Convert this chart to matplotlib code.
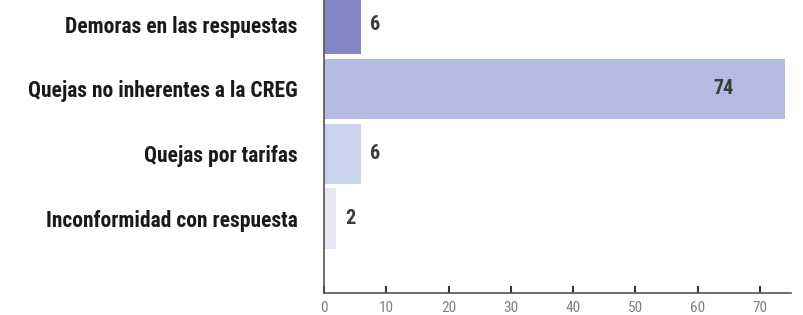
import matplotlib.pyplot as plt
import matplotlib.font_manager as fm

# datos
categorias = ["Demoras en las respuestas", "Quejas no inherentes a la CREG",
              "Quejas por tarifas", "Inconformidad con respuesta"]
valores = [6, 74, 6, 2]
colores = ["#8585c6", "#b3bbe2", "#c9d3ee", "#e6e6f5"]
ticks_x = [0, 10, 20, 30, 40, 50, 60, 70]

# fuente condensada (si existe)
names = {f.name for f in fm.fontManager.ttflist}
fam = [n for n in ["Roboto Condensed", "Archivo Narrow", "Asap Condensed",
                   "Liberation Sans Narrow"] if n in names] + ["DejaVu Sans"]

fig = plt.figure(figsize=(8.04, 3.15), dpi=100)
ax = fig.add_axes([324 / 804, 22 / 315, 467 / 804, 293 / 315 + 0.01])

pos = list(range(len(categorias)))
ax.barh(pos, valores, height=0.93, color=colores, edgecolor="none")

ax.set_xlim(0, 75)
ax.set_ylim(4.15, -0.42)

# etiquetas de valor
for p, v in zip(pos, valores):
    if v > 30:
        ax.text(v - 9.8, p, str(v), ha="center", va="center", fontsize=14.5,
                fontweight="bold", color="#3a3a3a", family=fam)
    else:
        ax.text(v + 1.4, p, str(v), ha="left", va="center", fontsize=14.5,
                fontweight="bold", color="#3a3a3a", family=fam)

ax.set_yticks(pos)
ax.set_yticklabels(categorias, fontsize=15.5, fontweight="bold", color="#1a1a1a", family=fam)
ax.tick_params(axis="y", length=0, pad=19)

ax.set_xticks(ticks_x)
ax.set_xticklabels([str(t) for t in ticks_x], fontsize=11, color="#808080", family=fam)
ax.tick_params(axis="x", direction="in", length=5, width=1.5, color="#333333", pad=6)

for s in ["top", "right"]:
    ax.spines[s].set_visible(False)
ax.spines["left"].set_color("#555555")
ax.spines["bottom"].set_color("#555555")
ax.spines["left"].set_linewidth(1.2)
ax.spines["bottom"].set_linewidth(1.2)

fig.savefig("out.png", dpi=100)
